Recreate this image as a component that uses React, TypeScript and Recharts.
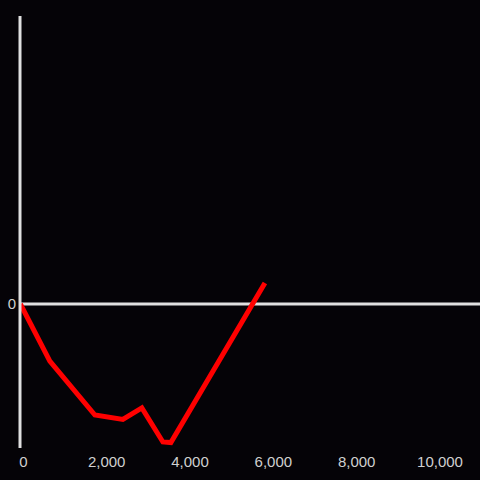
import React from 'react';
import { LineChart, Line, XAxis, YAxis, ReferenceLine } from 'recharts';

const xValues = [-72, 636, 1717, 2389, 2845, 3349, 3541, 5798];
const yValues = [0, -396, -771, -802, -722, -958, -962, 146];
const xTicks = [0, 2000, 4000, 6000, 8000, 10000];
const yTicks = [0];

const data = xValues.map((x, i) => ({ x, y: yValues[i] }));

const fmt = (n: number) => n.toLocaleString('en-US');

export default function App() {
  return (
    <div style={{ position: 'absolute', left: 0, top: 0, width: 480, height: 480, background: '#050307' }}>
      <LineChart width={480} height={480} data={data} margin={{ top: 16, right: 0, bottom: 0, left: 0 }}>
        <XAxis
          dataKey="x"
          type="number"
          domain={[-80, 10960]}
          ticks={xTicks}
          tickFormatter={fmt}
          axisLine={false}
          tickLine={false}
          height={32}
          allowDataOverflow
          tick={{ fill: '#d0d0d0', fontSize: 15, fontFamily: 'Liberation Sans, Arial, sans-serif' }}
        />
        <YAxis
          type="number"
          domain={[-1000, 2000]}
          ticks={yTicks}
          width={20}
          allowDataOverflow
          axisLine={{ stroke: '#e0e0e0', strokeWidth: 3 }}
          tickLine={false}
          tickSize={4}
          tickMargin={0}
          tick={{ fill: '#d0d0d0', fontSize: 15, fontFamily: 'Liberation Sans, Arial, sans-serif' }}
        />
        <ReferenceLine y={0} stroke="#e0e0e0" strokeWidth={3} />
        <Line
          type="linear"
          dataKey="y"
          stroke="#ff0000"
          strokeWidth={5}
          dot={false}
          isAnimationActive={false}
        />
      </LineChart>
    </div>
  );
}
